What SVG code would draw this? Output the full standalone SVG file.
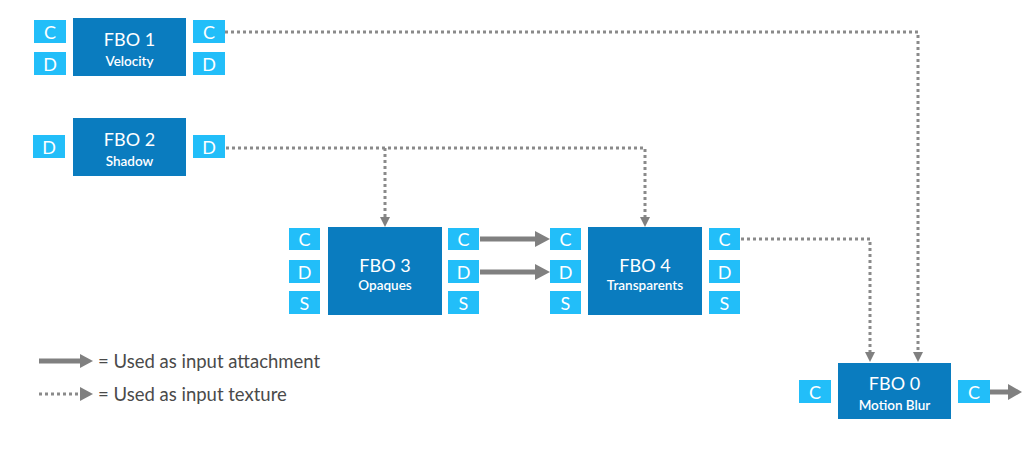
<svg xmlns="http://www.w3.org/2000/svg" width="1032" height="452" viewBox="0 0 1032 452">
<defs>
<style>
.main{fill:#0a7cbf;}
.att{fill:#22bef9;}
.t1{font-family:Lato,"Open Sans",sans-serif;font-size:18px;fill:#fff;text-anchor:middle;}
.t2{font-family:Lato,"Open Sans",sans-serif;font-size:13.5px;font-weight:600;fill:#fff;text-anchor:middle;}
.ta{font-family:Lato,"Open Sans",sans-serif;font-size:18px;fill:#fff;text-anchor:middle;}
.solid{stroke:#808080;stroke-width:5;fill:none;}
.dot{stroke:#8a8a8a;stroke-width:3;stroke-dasharray:3 3;fill:none;}
.leg{font-family:Lato,"Open Sans",sans-serif;font-size:18.5px;fill:#4a4a4a;}
</style>
</defs>

<g id="connectors">
<path class="dot" d="M225,32 H918 V352"/>
<path d="M913,352 L923,352 L918,362 Z" fill="#808080"/>
<path class="dot" d="M226,148 H645 V217"/>
<path d="M640,217 L650,217 L645,227 Z" fill="#808080"/>
<path class="dot" d="M385,148 V217"/>
<path d="M380,217 L390,217 L385,227 Z" fill="#808080"/>
<path class="dot" d="M741,239 H870 V352"/>
<path d="M865,352 L875,352 L870,362 Z" fill="#808080"/>
<path class="solid" d="M480,239 H537"/>
<path d="M535,231 L550,239 L535,247 Z" fill="#808080"/>
<path class="solid" d="M480,272 H537"/>
<path d="M535,264 L550,272 L535,280 Z" fill="#808080"/>
<path class="solid" d="M990,392 H1010"/>
<path d="M1008,384 L1022,392 L1008,400 Z" fill="#808080"/>
</g>

<g id="fbo1">
<rect class="att" x="34" y="20" width="32" height="23"/><text class="ta" x="50" y="38.5">C</text>
<rect class="att" x="34" y="52" width="32" height="23"/><text class="ta" x="50" y="70.5">D</text>
<rect class="main" x="73" y="18" width="113" height="58"/>
<text class="t1" x="129.5" y="46">FBO 1</text><text class="t2" x="129.5" y="66">Velocity</text>
<rect class="att" x="193" y="20" width="32" height="23"/><text class="ta" x="209" y="38.5">C</text>
<rect class="att" x="193" y="52" width="32" height="23"/><text class="ta" x="209" y="70.5">D</text>
</g>

<g id="fbo2">
<rect class="att" x="33" y="135" width="32" height="23"/><text class="ta" x="49" y="153.5">D</text>
<rect class="main" x="73" y="118" width="113" height="58"/>
<text class="t1" x="129.5" y="146">FBO 2</text><text class="t2" x="129.5" y="166">Shadow</text>
<rect class="att" x="193" y="135" width="32" height="23"/><text class="ta" x="209" y="153.5">D</text>
</g>

<g id="fbo3">
<rect class="att" x="289" y="228" width="31" height="22"/><text class="ta" x="304.5" y="246">C</text>
<rect class="att" x="289" y="260" width="31" height="23"/><text class="ta" x="304.5" y="278.5">D</text>
<rect class="att" x="289" y="291" width="31" height="23"/><text class="ta" x="304.5" y="309.5">S</text>
<rect class="main" x="328" y="227" width="114" height="88"/>
<text class="t1" x="385" y="272">FBO 3</text><text class="t2" x="385" y="290">Opaques</text>
<rect class="att" x="448" y="228" width="31" height="22"/><text class="ta" x="463.5" y="246">C</text>
<rect class="att" x="448" y="260" width="31" height="23"/><text class="ta" x="463.5" y="278.5">D</text>
<rect class="att" x="448" y="291" width="31" height="23"/><text class="ta" x="463.5" y="309.5">S</text>
</g>

<g id="fbo4">
<rect class="att" x="550" y="228" width="31" height="22"/><text class="ta" x="565.5" y="246">C</text>
<rect class="att" x="550" y="260" width="31" height="23"/><text class="ta" x="565.5" y="278.5">D</text>
<rect class="att" x="550" y="291" width="31" height="23"/><text class="ta" x="565.5" y="309.5">S</text>
<rect class="main" x="588" y="227" width="114" height="88"/>
<text class="t1" x="645" y="272">FBO 4</text><text class="t2" x="645" y="290">Transparents</text>
<rect class="att" x="709" y="228" width="31" height="22"/><text class="ta" x="724.5" y="246">C</text>
<rect class="att" x="709" y="260" width="31" height="23"/><text class="ta" x="724.5" y="278.5">D</text>
<rect class="att" x="709" y="291" width="31" height="23"/><text class="ta" x="724.5" y="309.5">S</text>
</g>

<g id="fbo0">
<rect class="att" x="799" y="380" width="32" height="23"/><text class="ta" x="815" y="398.5">C</text>
<rect class="main" x="838" y="363" width="113" height="56"/>
<text class="t1" x="894.5" y="390">FBO 0</text><text class="t2" x="894.5" y="410">Motion Blur</text>
<rect class="att" x="958" y="380" width="32" height="23"/><text class="ta" x="974" y="398.5">C</text>
</g>

<g id="legend">
<path class="solid" d="M39,361 H82"/>
<path d="M80,354 L93,361 L80,368 Z" fill="#808080"/>
<text class="leg" x="98" y="367.5">= Used as input attachment</text>
<path class="dot" d="M39,394 H78"/>
<path d="M80,387 L93,394 L80,401 Z" fill="#808080"/>
<text class="leg" x="98" y="400.5">= Used as input texture</text>
</g>
</svg>
